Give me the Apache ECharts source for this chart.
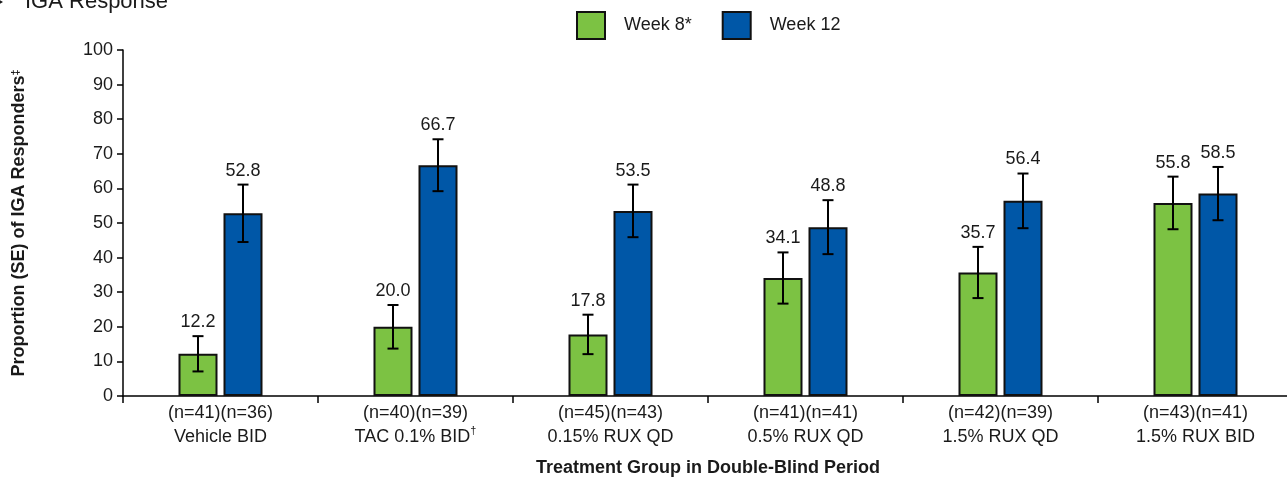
<!DOCTYPE html>
<html>
<head>
<meta charset="utf-8">
<title>IGA Response</title>
<script src="https://cdn.jsdelivr.net/npm/echarts@6/dist/echarts.min.js"></script>
<style>
  html, body { margin: 0; padding: 0; background: #ffffff; }
  #chart { width: 1287px; height: 478px; }
</style>
</head>
<body>
<div id="chart"></div>
<script>
// Treatment groups and patient counts at each visit
const groups = ['Vehicle BID', 'TAC 0.1% BID', '0.15% RUX QD', '0.5% RUX QD', '1.5% RUX QD', '1.5% RUX BID'];
const groupMarks = ['', '†', '', '', '', ''];
const nWeek8 = [41, 40, 45, 41, 42, 43];
const nWeek12 = [36, 39, 43, 41, 39, 41];

// Proportion of IGA responders (%) and standard errors
const week8 = [12.2, 20.0, 17.8, 34.1, 35.7, 55.8];
const week8SE = [5.1, 6.3, 5.7, 7.4, 7.4, 7.6];
const week12 = [52.8, 66.7, 53.5, 48.8, 56.4, 58.5];
const week12SE = [8.3, 7.5, 7.6, 7.8, 7.9, 7.7];

const yTicks = [0, 10, 20, 30, 40, 50, 60, 70, 80, 90, 100];

const GREEN = '#7CC243';
const BLUE = '#0057A7';
const FONT = '"Liberation Sans", Arial, Helvetica, sans-serif';
const BAR_W = 39;
const BAR_GAP = 6;

const categories = groups.map((g, i) => '(n=' + nWeek8[i] + ')(n=' + nWeek12[i] + ')\n' + g + (groupMarks[i] ? '{sup|' + groupMarks[i] + '}' : ''));

// Error bar with its value label, drawn beside the category centre
function errorSeries(name, values, errs, side) {
  return {
    type: 'custom',
    name: name + ' SE',
    z: 10,
    silent: true,
    encode: { x: 0, y: 1 },
    data: values.map((v, i) => [i, v, errs[i]]),
    renderItem: function (params, api) {
      const v = api.value(1);
      const e = api.value(2);
      const top = api.coord([api.value(0), v + e]);
      const bot = api.coord([api.value(0), v - e]);
      const x = top[0] + side * (BAR_W + BAR_GAP) / 2;
      const hw = 5.5;
      const ls = { stroke: '#000', lineWidth: 2 };
      return {
        type: 'group',
        children: [
          { type: 'line', shape: { x1: x, y1: top[1], x2: x, y2: bot[1] }, style: ls },
          { type: 'line', shape: { x1: x - hw, y1: top[1], x2: x + hw, y2: top[1] }, style: ls },
          { type: 'line', shape: { x1: x - hw, y1: bot[1], x2: x + hw, y2: bot[1] }, style: ls },
          {
            type: 'text',
            style: {
              text: v.toFixed(1),
              x: x,
              y: top[1] - 5,
              align: 'center',
              verticalAlign: 'bottom',
              fontFamily: FONT,
              fontSize: 18,
              fill: '#1a1a1a'
            }
          }
        ]
      };
    }
  };
}

const chart = echarts.init(document.getElementById('chart'), null, { renderer: 'canvas' });

chart.setOption({
  backgroundColor: '#ffffff',
  animation: false,
  textStyle: { fontFamily: FONT },
  graphic: [
    {
      type: 'polygon',
      shape: { points: [[-6, -3], [3, 2], [-6, 7]] },
      style: { fill: '#1a1a1a' }
    },
    {
      type: 'text',
      left: 25,
      top: -9,
      style: { text: 'IGA Response', fontFamily: FONT, fontSize: 22, fill: '#1a1a1a' }
    }
  ],
  legend: {
    data: ['Week 8*', 'Week 12'],
    icon: 'rect',
    left: 571,
    top: 6,
    itemWidth: 28,
    itemHeight: 27,
    itemGap: 30,
    textStyle: { fontFamily: FONT, fontSize: 18, color: '#1a1a1a', padding: [0, 0, 0, 14] }
  },
  grid: { left: 123, right: -6, top: 50, bottom: 82, outerBoundsMode: 'none' },
  xAxis: {
    type: 'category',
    data: categories,
    name: 'Treatment Group in Double-Blind Period',
    nameLocation: 'middle',
    nameGap: 63,
    nameTextStyle: { fontFamily: FONT, fontSize: 18, fontWeight: 'bold', color: '#1a1a1a' },
    axisLine: { lineStyle: { color: '#000', width: 1.5 } },
    axisTick: { show: true, length: 7, interval: 0, lineStyle: { color: '#000', width: 1.5 } },
    axisLabel: {
      interval: 0,
      margin: 5,
      fontFamily: FONT,
      fontSize: 18,
      lineHeight: 24,
      color: '#1a1a1a',
      rich: {
        sup: { fontSize: 11, verticalAlign: 'top', padding: [0, 0, 8, 0], color: '#1a1a1a' }
      }
    }
  },
  yAxis: {
    type: 'value',
    min: yTicks[0],
    max: yTicks[yTicks.length - 1],
    interval: yTicks[1] - yTicks[0],
    name: 'Proportion (SE) of IGA Responders{sup|‡}',
    nameLocation: 'middle',
    nameGap: 94,
    nameTextStyle: {
      fontFamily: FONT, fontSize: 18, fontWeight: 'bold', color: '#1a1a1a',
      rich: { sup: { fontSize: 11, fontWeight: 'bold', padding: [0, 0, 8, 0], color: '#1a1a1a' } }
    },
    axisLine: { show: true, lineStyle: { color: '#000', width: 1.5 } },
    axisTick: { show: true, length: 6, lineStyle: { color: '#000', width: 1.5 } },
    axisLabel: { margin: 10, fontFamily: FONT, fontSize: 18, color: '#1a1a1a' },
    splitLine: { show: false }
  },
  series: [
    {
      type: 'bar',
      name: 'Week 8*',
      data: week8,
      barWidth: BAR_W,
      barGap: (BAR_GAP / BAR_W * 100).toFixed(1) + '%',
      itemStyle: { color: GREEN, borderColor: '#111', borderWidth: 2 }
    },
    {
      type: 'bar',
      name: 'Week 12',
      data: week12,
      barWidth: BAR_W,
      itemStyle: { color: BLUE, borderColor: '#111', borderWidth: 2 }
    },
    errorSeries('Week 8*', week8, week8SE, -1),
    errorSeries('Week 12', week12, week12SE, 1)
  ]
});
</script>
</body>
</html>
